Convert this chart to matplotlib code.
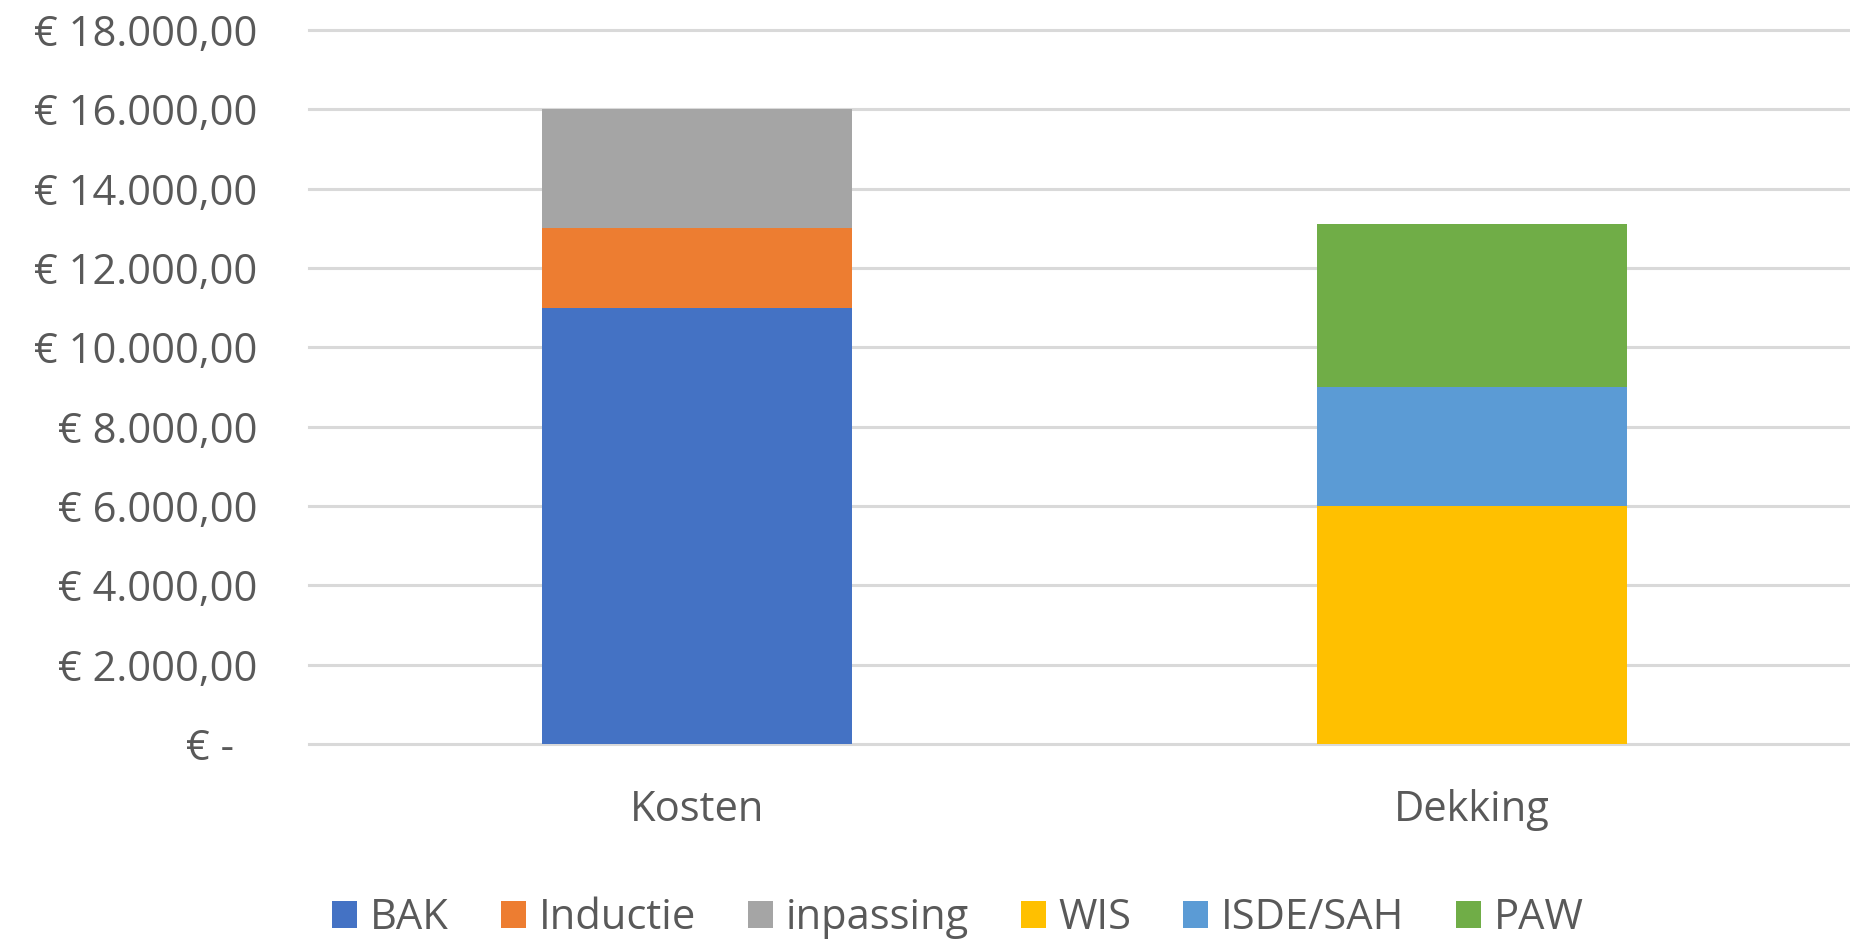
import matplotlib
matplotlib.use("Agg")
import matplotlib.pyplot as plt
from matplotlib.ticker import FuncFormatter, MultipleLocator
from matplotlib.transforms import ScaledTranslation
import numpy as np

plt.rcParams['font.family'] = ['Open Sans', 'DejaVu Sans']

categories = ["Kosten", "Dekking"]
series_names = ["BAK", "Inductie", "inpassing", "WIS", "ISDE/SAH", "PAW"]
BAK = [11000, 0]
Inductie = [2000, 0]
inpassing = [3000, 0]
WIS = [0, 6000]
ISDE_SAH = [0, 3000]
PAW = [0, 4100]
series_values = [BAK, Inductie, inpassing, WIS, ISDE_SAH, PAW]
colors = ["#4472C4", "#ED7D31", "#A5A5A5", "#FFC000", "#5B9BD5", "#70AD47"]

TXT = "#595959"
FS = 30

fig = plt.figure(figsize=(18.5, 9.4), dpi=100)
W, H = 1850, 940
ax = fig.add_axes([309 / W, 1 - 744 / H, 1551 / W, (744 - 30) / H])

x = np.arange(len(categories))
bottom = np.zeros(len(categories))
for name, vals, c in zip(series_names, series_values, colors):
    v = np.array(vals, dtype=float)
    ax.bar(x, v, width=0.4, bottom=bottom, color=c, label=name, zorder=2)
    bottom += v

ax.set_xlim(-0.5, 1.5)
ax.set_ylim(0, 18000)
ax.yaxis.set_major_locator(MultipleLocator(2000))


def euro(v, pos):
    if abs(v) < 1e-9:
        return "€ -"
    s = f"{v:,.2f}".replace(",", "X").replace(".", ",").replace("X", ".")
    return "€ " + s


ax.yaxis.set_major_formatter(FuncFormatter(euro))
ax.set_xticks(x)
ax.set_xticklabels(categories)

ax.grid(axis='y', color="#D9D9D9", linewidth=2.2, zorder=0)
ax.set_axisbelow(True)
for gl in ax.get_ygridlines():
    gl.set_clip_on(False)
for s in ax.spines.values():
    s.set_visible(False)

ax.tick_params(axis='y', length=0, pad=37, labelsize=FS, labelcolor=TXT)
ax.tick_params(axis='x', length=0, pad=32.5, labelsize=FS, labelcolor=TXT)

fig.canvas.draw()
for lbl in ax.get_yticklabels():
    if lbl.get_text() == "€ -":
        lbl.set_transform(lbl.get_transform() + ScaledTranslation(-24 / 100, 0, fig.dpi_scale_trans))

leg = fig.legend(loc='center', bbox_to_anchor=(958 / W, 1 - 918 / H), ncol=6, frameon=False,
                 fontsize=FS, handlelength=0.6, handleheight=0.6, handletextpad=0.3,
                 columnspacing=1.25, borderaxespad=0)
for t in leg.get_texts():
    t.set_color(TXT)

fig.savefig("out.png", dpi=100, facecolor="white")
